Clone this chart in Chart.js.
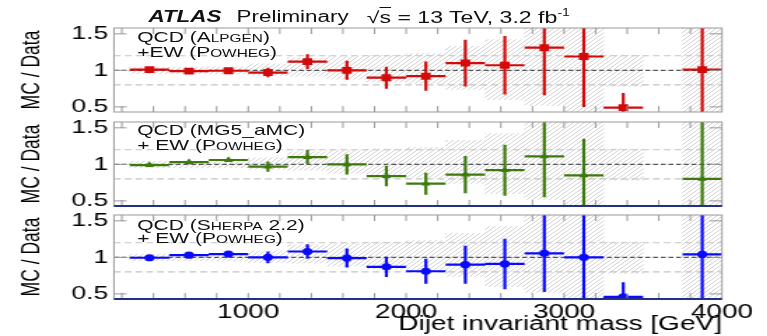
<!DOCTYPE html>
<html>
<head>
<meta charset="utf-8">
<script src="https://cdn.jsdelivr.net/npm/chart.js@4.4.1/dist/chart.umd.min.js"></script>
<style>
  html, body { margin: 0; padding: 0; background: #fff; overflow: hidden; }
  #wrap { position: relative; width: 548px; height: 336px; transform: scaleX(1.4); transform-origin: 0 0;
          font-family: 'Liberation Sans', Arial, sans-serif; color: #111; }
  #wrap canvas { position: absolute; left: 0; top: 0; }
  .txt { position: absolute; white-space: nowrap; font-size: 15px; line-height: 15px; }
  .hdr { font-size: 16px; line-height: 16px; }
  .sc  { font-variant: small-caps; }
</style>
</head>
<body>
<div id="wrap">
  <canvas id="c1" width="548" height="336"></canvas>
  <canvas id="c2" width="548" height="336"></canvas>
  <canvas id="c3" width="548" height="336"></canvas>

  <div class="txt hdr" style="left:106px;top:9px;font-weight:bold;font-style:italic">ATLAS</div>
  <div class="txt hdr" style="left:169px;top:9px">Preliminary</div>
  <div class="txt hdr" style="left:262px;top:9px;font-size:16.5px">√<span style="text-decoration:overline">s</span> = 13 TeV, 3.2 fb<span style="font-size:10px;position:relative;top:-7px">-1</span></div>

  <div class="txt" style="left:98px;top:29px">QCD (<span class="sc">Alpgen</span>)</div>
  <div class="txt" style="left:98px;top:44px">+EW (<span class="sc">Powheg</span>)</div>
  <div class="txt" style="left:98px;top:122px">QCD (MG5_aMC)</div>
  <div class="txt" style="left:98px;top:137px">+ EW (<span class="sc">Powheg</span>)</div>
  <div class="txt" style="left:98px;top:217px">QCD (<span class="sc">Sherpa</span> 2.2)</div>
  <div class="txt" style="left:98px;top:230px">+ EW (<span class="sc">Powheg</span>)</div>
</div>

<script>
const binCenters = [375, 625, 875, 1125, 1375, 1625, 1875, 2125, 2375, 2625, 2875, 3125, 3375, 3875];
const binHalf    = 125;

const alpgenRatio = [1.01, 0.99, 0.995, 0.97, 1.12, 1.0, 0.90, 0.92, 1.10, 1.07, 1.31, 1.19, 0.49, 1.01];
const alpgenErr   = [0.02, 0.02, 0.02, 0.065, 0.10, 0.13, 0.15, 0.20, 0.32, 0.40, 0.65, 0.69, 0.20, 1.0];

const mg5Ratio = [0.99, 1.03, 1.06, 0.97, 1.10, 1.0, 0.84, 0.735, 0.86, 0.92, 1.11, 0.85, null, 0.80];
const mg5Err   = [0.02, 0.02, 0.02, 0.07, 0.10, 0.14, 0.14, 0.15, 0.255, 0.35, 0.56, 0.50, null, 1.0];

const sherpaRatio = [0.995, 1.03, 1.045, 1.0, 1.08, 0.99, 0.87, 0.81, 0.90, 0.91, 1.055, 1.0, 0.46, 1.04];
const sherpaErr   = [0.02, 0.02, 0.02, 0.08, 0.10, 0.13, 0.14, 0.17, 0.26, 0.345, 0.53, 0.70, 0.20, 1.0];

// data uncertainty band (same in all panels)
const bandLow  = [0.955, 0.955, 0.95, 0.93, 0.92, 0.88, 0.84, 0.82, 0.74, 0.60, 0.52, 0.30, 0.78, 0.30];
const bandHigh = [1.045, 1.045, 1.05, 1.09, 1.17, 1.19, 1.21, 1.23, 1.33, 1.42, 1.70, 1.70, 1.21, 1.70];

const xTickLabels = [1000, 2000, 3000, 4000];
const yTicks      = [0.5, 1, 1.5];
const refLines    = [0.8, 1.0, 1.2];
const xMin = 150, xMax = 4000, yMin = 0.43, yMax = 1.58;

function hatchPattern() {
  const c = document.createElement('canvas');
  c.width = 4; c.height = 4;
  const g = c.getContext('2d');
  g.strokeStyle = '#c6c6c6';
  g.lineWidth = 0.8;
  g.beginPath();
  g.moveTo(-1, 5); g.lineTo(5, -1);
  g.moveTo(-1, 1); g.lineTo(1, -1);
  g.moveTo(3, 5);  g.lineTo(5, 3);
  g.stroke();
  return g.createPattern(c, 'repeat');
}

function errorSegments(vals, errs) {
  const out = [];
  binCenters.forEach((c, i) => {
    if (vals[i] === null) return;
    out.push({ x: c - binHalf, y: vals[i] }, { x: c + binHalf, y: vals[i] }, { x: c, y: null });
    out.push({ x: c, y: vals[i] - errs[i] }, { x: c, y: vals[i] + errs[i] }, { x: c, y: null });
  });
  return out;
}

const frameTicks = {
  id: 'frameTicks',
  afterDatasetsDraw(chart, args, opts) {
    const { ctx, chartArea: a, scales: { x, y } } = chart;
    ctx.save();
    ctx.strokeStyle = '#999';
    ctx.lineWidth = 1;
    ctx.beginPath();
    for (let v = 200; v < xMax; v += 200) {
      const px = x.getPixelForValue(v);
      ctx.moveTo(px, a.top);    ctx.lineTo(px, a.top + 6);
      ctx.moveTo(px, a.bottom); ctx.lineTo(px, a.bottom - 6);
    }
    yTicks.forEach(v => {
      const py = y.getPixelForValue(v);
      ctx.moveTo(a.left, py);  ctx.lineTo(a.left + 9, py);
      ctx.moveTo(a.right, py); ctx.lineTo(a.right - 9, py);
    });
    ctx.stroke();
    ctx.strokeRect(a.left, a.top, a.right - a.left, a.bottom - a.top);
    if (opts.baseColor) {
      ctx.strokeStyle = opts.baseColor;
      ctx.lineWidth = 2;
      ctx.beginPath();
      ctx.moveTo(a.left, a.bottom); ctx.lineTo(a.right, a.bottom);
      ctx.stroke();
    }
    ctx.restore();
  }
};

function makePanel(id, vals, errs, color, marker, radius, p) {
  const hatch = hatchPattern();
  const refData = v => [{ x: xMin, y: v }, { x: xMax, y: v }];
  const font = size => ({ family: "'Liberation Sans', Arial", size });

  return new Chart(document.getElementById(id), {
    type: 'scatter',
    data: {
      datasets: [
        { data: binCenters.map((c, i) => ({ x: c, y: vals[i] })), pointStyle: marker, pointRadius: radius,
          backgroundColor: color, borderColor: color, borderWidth: 0, order: 0 },
        { data: errorSegments(vals, errs), showLine: true, spanGaps: false, pointRadius: 0,
          borderColor: color, borderWidth: 2.2, order: 1 },
        { data: refData(refLines[1]), showLine: true, pointRadius: 0, borderColor: '#555',
          borderWidth: 1.3, borderDash: [3.6, 1.9], order: 2 },
        { data: refData(refLines[0]), showLine: true, pointRadius: 0, borderColor: '#c4c4c4',
          borderWidth: 1.2, borderDash: [4.8, 2.9], order: 3 },
        { data: refData(refLines[2]), showLine: true, pointRadius: 0, borderColor: '#c4c4c4',
          borderWidth: 1.2, borderDash: [4.8, 2.9], order: 3 },
        { type: 'bar', data: binCenters.map((c, i) => ({ x: c, y: [bandLow[i], bandHigh[i]] })),
          backgroundColor: hatch, borderWidth: 0, categoryPercentage: 1, barPercentage: 1,
          clip: 0, order: 9 }
      ]
    },
    options: {
      responsive: false,
      animation: false,
      events: [],
      layout: { padding: { top: p.top, bottom: p.bottom, left: 12.7, right: 32.3 } },
      plugins: {
        legend: { display: false },
        tooltip: { enabled: false },
        frameTicks: { baseColor: p.baseColor }
      },
      scales: {
        x: {
          type: 'linear', min: xMin, max: xMax, offset: false, display: p.showX,
          grid: { display: false, drawTicks: false, offset: false },
          border: { display: false },
          afterBuildTicks: s => { s.ticks = xTickLabels.map(v => ({ value: v })); },
          afterFit: s => { if (p.showX) s.height = 37; },
          ticks: { color: '#000', padding: 1, maxRotation: 0, autoSkip: false, font: font(20),
                   callback: v => String(v) },
          title: { display: true, text: 'Dijet invariant mass [GeV]', align: 'end', color: '#000',
                   padding: { top: 0, bottom: 0 }, font: font(20) }
        },
        y: {
          min: yMin, max: yMax, beginAtZero: false,
          grid: { display: false, drawTicks: false },
          border: { display: false },
          afterBuildTicks: s => { s.ticks = yTicks.map(v => ({ value: v })); },
          afterFit: s => { s.width = 68.7; },
          ticks: { color: '#000', padding: 4, font: font(19), callback: v => String(v) },
          title: { display: true, text: 'MC / Data', color: '#000', padding: { top: 0, bottom: 0 },
                   font: font(17.5) }
        }
      }
    },
    plugins: [frameTicks]
  });
}

makePanel('c1', alpgenRatio, alpgenErr, '#d20a0a', 'rect', 4.9,
          { top: 28, bottom: 224, showX: false, baseColor: null });
makePanel('c2', mg5Ratio, mg5Err, '#3d7a0c', 'triangle', 3.8,
          { top: 122, bottom: 130, showX: false, baseColor: '#22308a' });
makePanel('c3', sherpaRatio, sherpaErr, '#0a0aff', 'circle', 3.6,
          { top: 215, bottom: 0, showX: true, baseColor: '#22308a' });
</script>
</body>
</html>
